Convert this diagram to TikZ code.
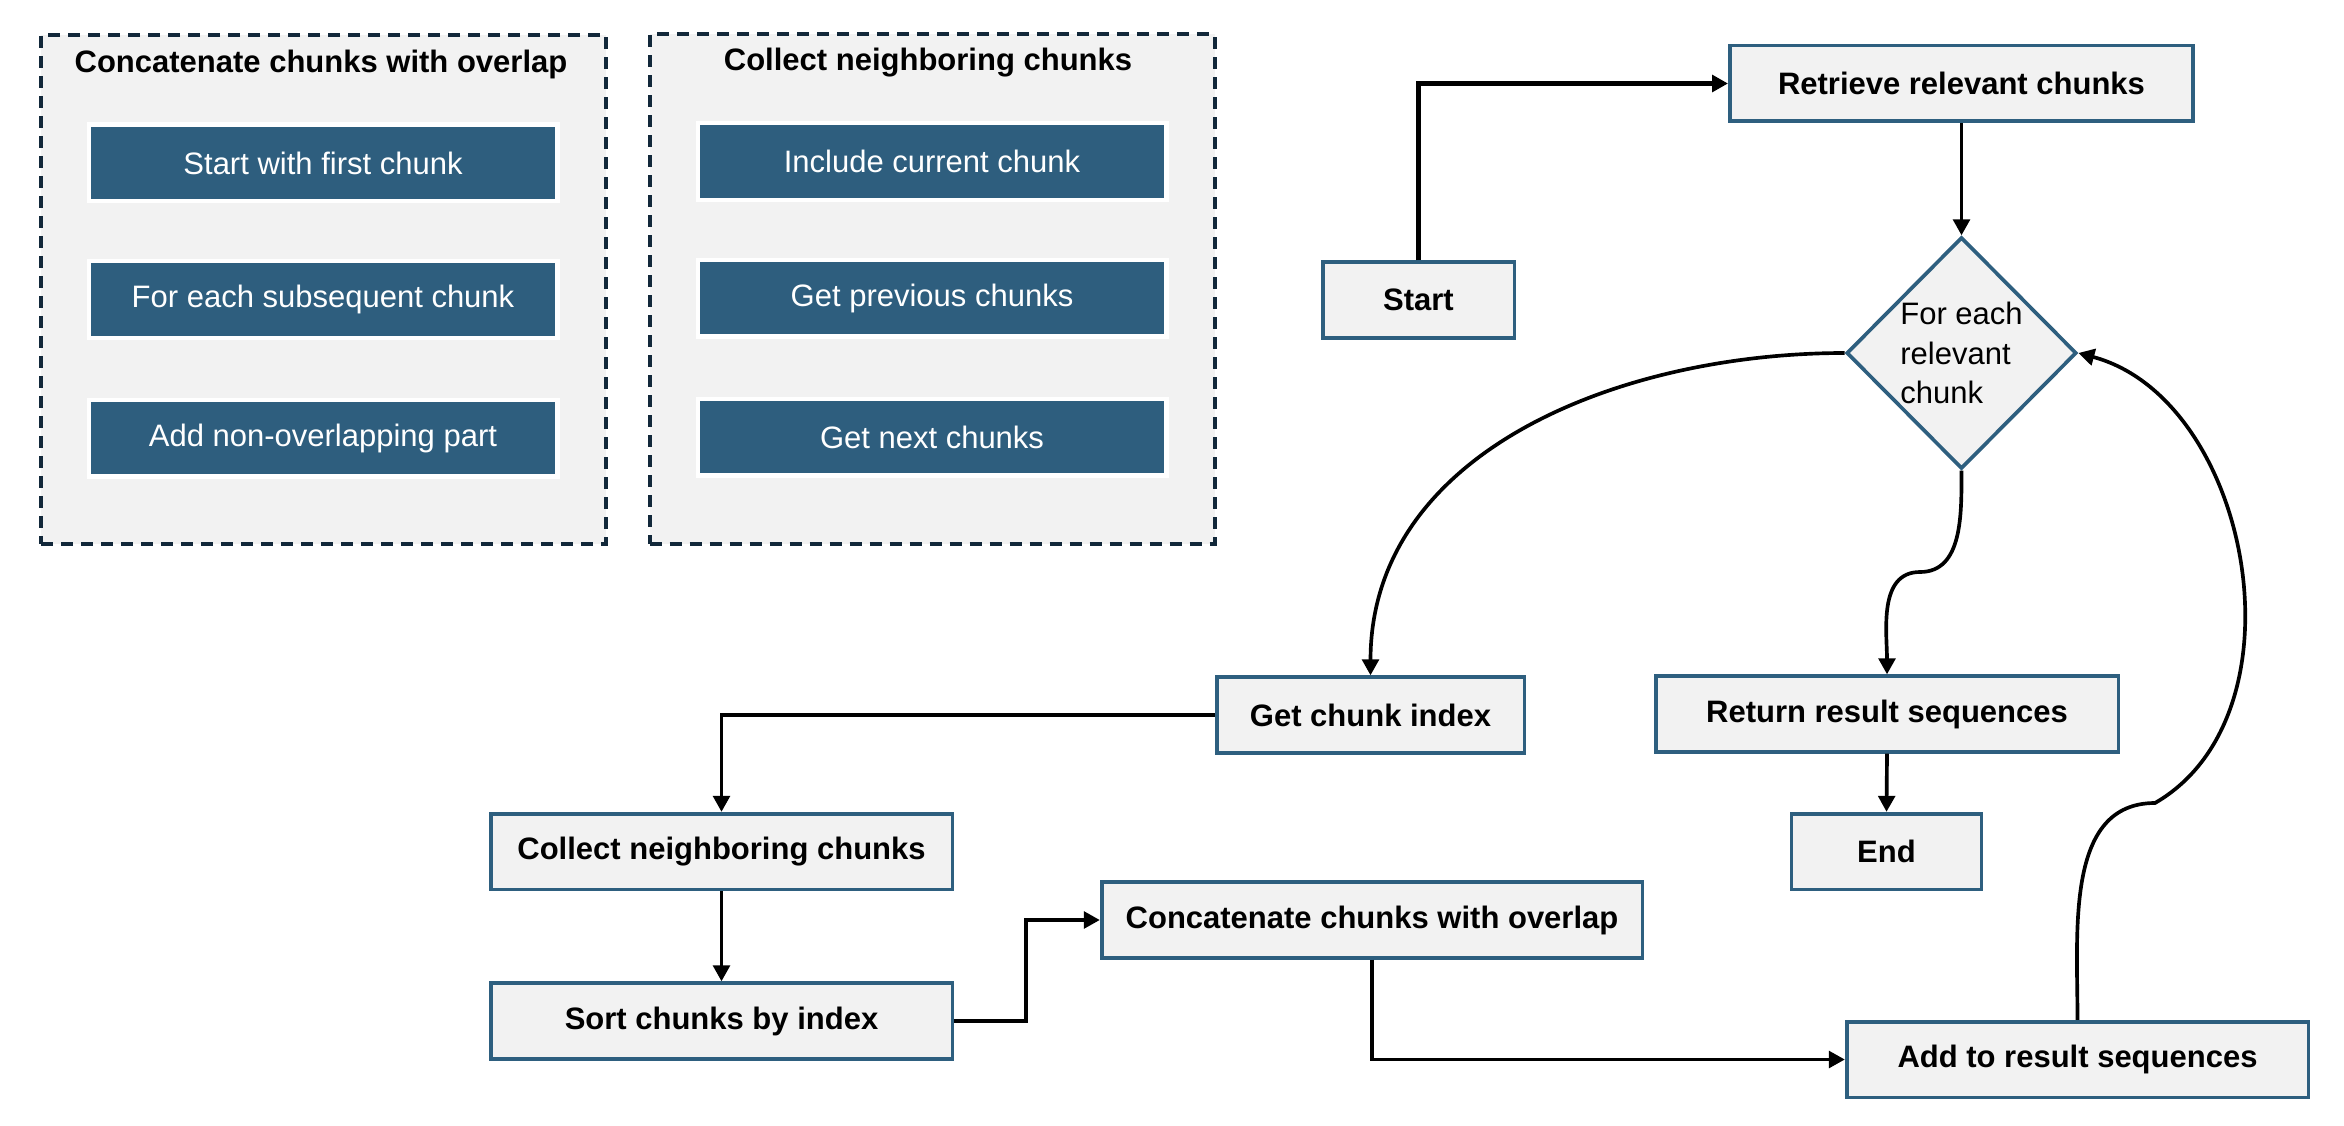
\documentclass[tikz,border=0pt]{standalone}
\usepackage{fontspec}
\setmainfont{Liberation Sans}
\usetikzlibrary{arrows.meta,positioning,shapes.geometric}

\definecolor{panelgray}{HTML}{F2F2F2}
\definecolor{edgeblue}{HTML}{2E5F7F}
\definecolor{stepblue}{HTML}{2E5E7E}
\definecolor{framenavy}{HTML}{12283A}

\tikzset{
 procbox/.style={draw=edgeblue,fill=panelgray,line width=1.1pt,minimum height=22.7pt,inner sep=2pt,font=\fontsize{9.3}{12}\selectfont\bfseries},
 stepbox/.style={draw=white,fill=stepblue,line width=1.3pt,text=white,minimum width=140.6pt,minimum height=23pt,font=\fontsize{9.3}{12}\selectfont},
 panel/.style={draw=framenavy,fill=panelgray,line width=1.2pt,dash pattern=on 3.6pt off 2.4pt,minimum width=169.5pt,minimum height=152.7pt},
 paneltitle/.style={font=\fontsize{9.3}{12}\selectfont\bfseries},
 flow/.style={line width=1.1pt,-{Triangle[length=4.8pt,width=5pt]}},
}

\begin{document}
\begin{tikzpicture}[x=0.3pt,y=0.3pt]
 \useasboundingbox (0,0) rectangle (2344,-1126);
 % helper panels
 \node[panel] (panelA) at (323.5,-289.5) {};
 \node[paneltitle] (titleA) at (321,-64) {Concatenate chunks with overlap};
 \node[stepbox] (firstchunk) at (323,-163) {Start with first chunk};
 \node[stepbox] (eachchunk) at (323,-299.5) {For each subsequent chunk};
 \node[stepbox] (addpart) at (323,-438) {Add non-overlapping part};
 \node[panel] (panelB) at (932,-289) {};
 \node[paneltitle] (titleB) at (928,-63) {Collect neighboring chunks};
 \node[stepbox] (current) at (932,-161.5) {Include current chunk};
 \node[stepbox] (previous) at (932,-298) {Get previous chunks};
 \node[stepbox] (next) at (932,-437) {Get next chunks};
 % main flow
 \node[procbox,minimum width=57.5pt] (start) at (1418.5,-300) {Start};
 \node[procbox,minimum width=139pt] (retrieve) at (1961.5,-83.5) {Retrieve relevant chunks};
 \node[diamond,draw=edgeblue,fill=panelgray,line width=1.1pt,minimum width=69pt,minimum height=69.5pt,inner sep=-2pt,align=left,font=\fontsize{9.3}{11.9}\selectfont] (loop) at (1961.5,-353) {For each\\relevant\\chunk};
 \node[procbox,minimum width=92.3pt] (getidx) at (1370.5,-715) {Get chunk index};
 \node[procbox,minimum width=138.8pt] (result) at (1887,-714) {Return result sequences};
 \node[procbox,minimum width=138.5pt] (collect) at (721.5,-851.5) {Collect neighboring chunks};
 \node[procbox,minimum width=57pt] (finish) at (1886.5,-851.5) {End};
 \node[procbox,minimum width=162.2pt] (concat) at (1372,-920) {Concatenate chunks with overlap};
 \node[procbox,minimum width=138.5pt] (sort) at (721.5,-1021) {Sort chunks by index};
 \node[procbox,minimum width=138.5pt] (append) at (2077.5,-1059.5) {Add to result sequences};
 \coordinate (bendR) at (1920,-572);
 \coordinate (bendL) at (2155,-803);
 % connectors
 \draw[flow,line width=1.5pt] (start.north) |- (retrieve.west);
 \draw[flow] (retrieve.south) -- (loop.north);
 \draw[flow] (loop.west) to[out=180,in=90] (getidx.north);
 \draw[flow] (loop.south) to[out=-90,in=0] (bendR) to[out=180,in=90] (result.north);
 \draw[flow] (result.south) -- (finish.north);
 \draw[flow] (getidx.west) -| (collect.north);
 \draw[flow] (collect.south) -- (sort.north);
 \draw[flow] (sort.east) -- ++(72,0) |- (concat.west);
 \draw[flow] (concat.south) |- (append.west);
 \draw[flow] (append.north) to[out=90,in=180] (bendL) to[out=30,in=-15] (loop.east);
\end{tikzpicture}
\end{document}
